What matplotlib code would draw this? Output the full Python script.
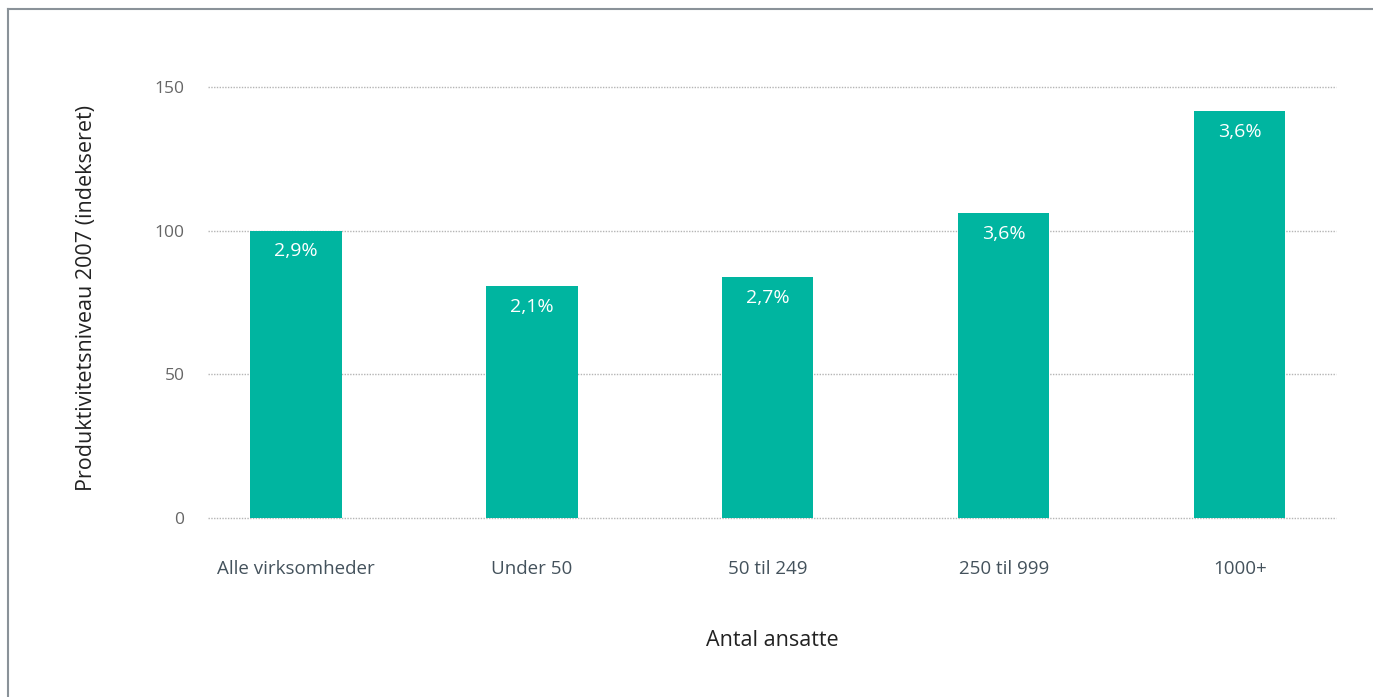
import numpy as np
import matplotlib.pyplot as plt
from matplotlib.lines import Line2D

categories = ['Alle virksomheder', 'Under 50', '50 til 249', '250 til 999', '1000+']
levels = [100, 80.7, 83.8, 106.2, 141.6]
growth = ['2,9%', '2,1%', '2,7%', '3,6%', '3,6%']
yticks = [0, 50, 100, 150]

plt.rcParams['font.family'] = ['Open Sans', 'DejaVu Sans']

fig = plt.figure(figsize=(13.73, 6.97), dpi=100)
ax = fig.add_axes([0.1515, 0.2568, 0.8215, 0.6182])

x = np.arange(len(categories))
bars = ax.bar(x, levels, width=0.386, color='#00b5a0', zorder=3)
for b, g in zip(bars, growth):
    ax.text(b.get_x() + b.get_width() / 2, b.get_height() - 7.2, g,
            ha='center', va='center', color='white', fontsize=14, zorder=4)

ax.set_xlim(-0.373, len(categories) - 1 + 0.407)
ax.set_ylim(0, 150)
ax.set_yticks(yticks)
ax.set_yticklabels([str(t) for t in yticks])
for t in yticks:
    ax.axhline(t, color='#b5b5b5', lw=1, ls=(0, (1, 1)), zorder=1, clip_on=False)

ax.set_xticks(x)
ax.set_xticklabels(categories)
ax.tick_params(axis='x', length=0, pad=30, labelsize=13.5, labelcolor='#44525c')
ax.tick_params(axis='y', length=0, pad=17, labelsize=12.5, labelcolor='#666666')
for s in ax.spines.values():
    s.set_visible(False)

ax.set_xlabel('Antal ansatte', fontsize=15.5, color='#222222', labelpad=38)
fig.text(87 / 1373, 1 - 298 / 697, 'Produktivitetsniveau 2007 (indekseret)',
         rotation=90, ha='center', va='center', fontsize=15.5, color='#222222')

# frame lines (left and top)
fig.add_artist(Line2D([8 / 1373, 8 / 1373], [0, 1 - 9 / 697], color='#8a9299', lw=1.5))
fig.add_artist(Line2D([8 / 1373, 1], [1 - 9 / 697, 1 - 9 / 697], color='#8a9299', lw=1.5))

fig.savefig('out.png', dpi=100)
